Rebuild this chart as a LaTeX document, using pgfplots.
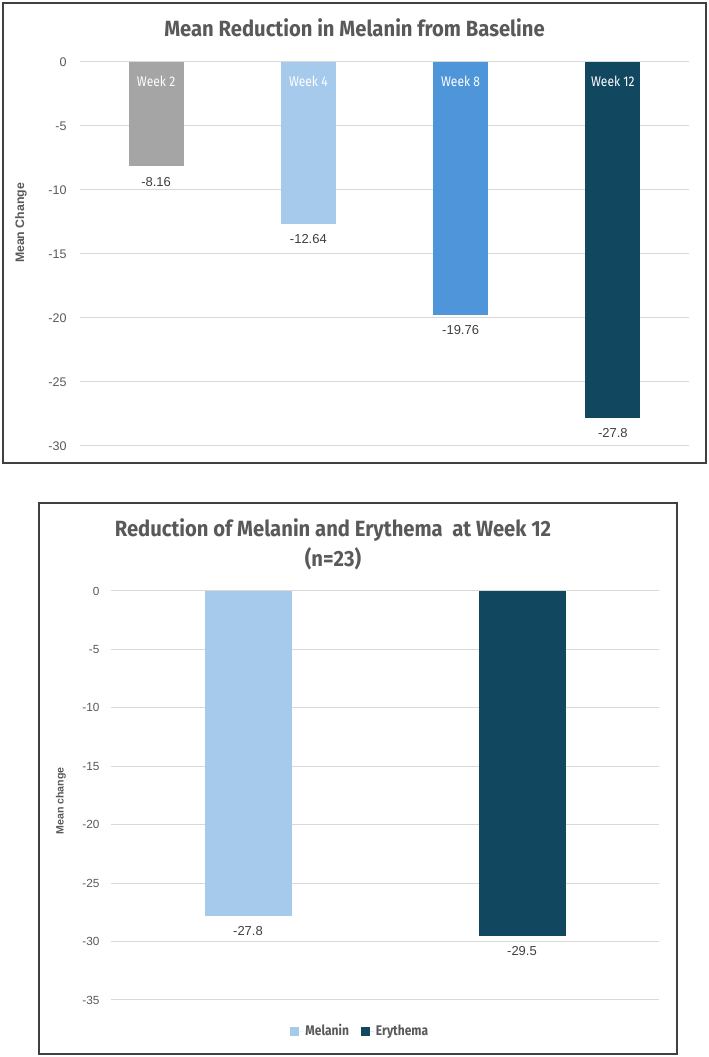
\documentclass[border=0pt]{standalone}
\usepackage{fontspec}
\setmainfont{Liberation Sans}
\newfontfamily\condfont[FakeStretch=0.92]{Fira Sans}
\newfontfamily\narrowfont[FakeStretch=0.86]{Fira Sans}
\usepackage{pgfplots}
\pgfplotsset{compat=1.18}
\definecolor{cgrey}{HTML}{A5A5A5}
\definecolor{clight}{HTML}{A6CAEC}
\definecolor{cmid}{HTML}{4E95D9}
\definecolor{cdark}{HTML}{124760}
\definecolor{gridc}{HTML}{D9D9D9}
\definecolor{txt}{HTML}{595959}
\definecolor{valtxt}{HTML}{404040}
\definecolor{framec}{HTML}{404040}
\begin{document}
\begin{tikzpicture}[x=1pt,y=1pt]
\useasboundingbox (0,0) rectangle (709,1057);
\fill[white] (0,0) rectangle (709,1057);
\draw[framec, line width=1.4pt] (3,594) rectangle (706,1054);
\draw[framec, line width=1.4pt] (39,3) rectangle (677,554);

\pgfplotsset{common/.style={
  scale only axis, anchor=south west,
  axis line style={draw=none}, tick style={draw=none},
  xtick=\empty,
  ymajorgrids, grid style={gridc, line width=1pt},
  ybar, bar shift=0pt, clip=false,
  nodes near coords, point meta=explicit symbolic,
  every node near coord/.append style={font=\fontsize{13}{15}\selectfont, text=valtxt, anchor=north, yshift=-7pt},
}}

% ---------- top chart ----------
\begin{axis}[common,
  at={(80pt,611pt)}, width=609pt, height=384pt,
  xmin=-0.5, xmax=3.5, ymin=-30, ymax=0,
  ytick={-30,-25,-20,-15,-10,-5,0},
  yticklabels={-30,-25,-20,-15,-10,-5,0},
  yticklabel style={font=\fontsize{12.5}{14}\selectfont, text=txt, xshift=-10pt},
  bar width=55pt,
]
\addplot[fill=cgrey, draw=none] coordinates {(0,-8.16) [-8.16]};
\addplot[fill=clight, draw=none] coordinates {(1,-12.64) [-12.64]};
\addplot[fill=cmid, draw=none] coordinates {(2,-19.76) [-19.76]};
\addplot[fill=cdark, draw=none] coordinates {(3,-27.8) [-27.8]};
\node[font=\narrowfont\fontsize{14}{16}\selectfont, text=white, yshift=-19pt] at (axis cs:0,0) {Week 2};
\node[font=\narrowfont\fontsize{14}{16}\selectfont, text=white, yshift=-19pt] at (axis cs:1,0) {Week 4};
\node[font=\narrowfont\fontsize{14}{16}\selectfont, text=white, yshift=-19pt] at (axis cs:2,0) {Week 8};
\node[font=\narrowfont\fontsize{14}{16}\selectfont, text=white, yshift=-19pt] at (axis cs:3,0) {Week 12};
\end{axis}

% ---------- bottom chart ----------
\begin{axis}[common,
  at={(111pt,57pt)}, width=548pt, height=409pt,
  xmin=-0.5, xmax=1.5, ymin=-35, ymax=0,
  ytick={-35,-30,-25,-20,-15,-10,-5,0},
  yticklabels={-35,-30,-25,-20,-15,-10,-5,0},
  yticklabel style={font=\fontsize{11.8}{14}\selectfont, text=txt, xshift=-8pt},
  bar width=87pt,
  legend image code/.code={\path[#1, draw=none] (0pt,-4.5pt) rectangle (9pt,4.5pt); \path (0pt,0pt) -- (13pt,0pt);},
  legend style={at={(0.455,-0.0758)}, anchor=center, draw=none, fill=none,
    legend columns=2, font=\narrowfont\bfseries\fontsize{14}{16}\selectfont, text=txt,
    /tikz/every even column/.append style={column sep=10pt}},
]
\addplot[fill=clight, draw=none] coordinates {(0,-27.8) [-27.8]};
\addlegendentry{Melanin}
\addplot[fill=cdark, draw=none] coordinates {(1,-29.5) [-29.5]};
\addlegendentry{Erythema}
\end{axis}

% titles and axis titles
\node[font=\condfont\bfseries\fontsize{22}{26}\selectfont, text=txt] at (354.5,1029) {Mean Reduction in Melanin from Baseline};
\node[font=\condfont\bfseries\fontsize{22}{30}\selectfont, text=txt, align=center] at (333,513) {Reduction of Melanin and Erythema~ at Week 12\\(n=23)};
\node[rotate=90, font=\bfseries\fontsize{12.3}{14}\selectfont, text=txt] at (21,834) {Mean Change};
\node[rotate=90, font=\bfseries\fontsize{10.6}{13}\selectfont, text=txt] at (61,256) {Mean change};
\end{tikzpicture}
\end{document}
